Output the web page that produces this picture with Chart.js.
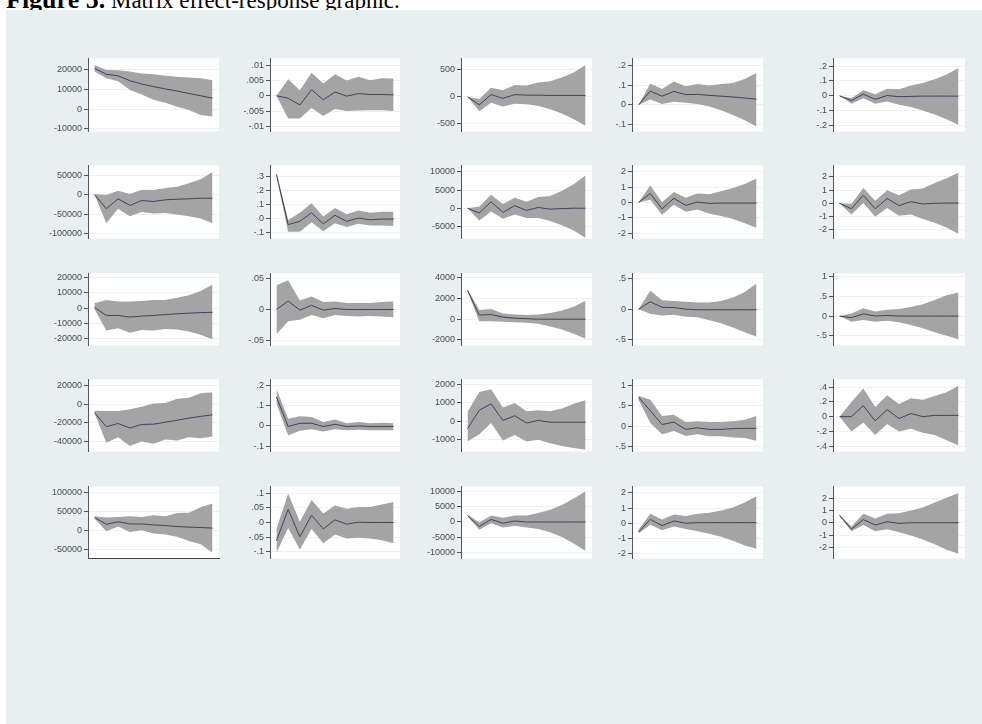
<!DOCTYPE html>
<html>
<head>
<meta charset="utf-8">
<script src="https://cdn.jsdelivr.net/npm/chart.js@4.4.1/dist/chart.umd.min.js"></script>
<style>
body { margin: 0; width: 982px; height: 724px; position: relative; overflow: hidden; background: #fff; }
#title { position: absolute; left: 6px; top: -15px; font-family: "Liberation Serif", "Times New Roman", serif; font-size: 23px; white-space: nowrap; color: #000; }
#title b { font-size: 26px; }
#panel { position: absolute; left: 6px; top: 10px; right: 0; bottom: 0; background: #e8eff1; }
canvas { position: absolute; }
</style>
</head>
<body>
<div id="title"><b>Figure 5.</b> Matrix effect-response graphic.</div>
<div id="panel"></div>
<script>
// Matrix of impulse responses - 5x5 small multiples, grey band = confidence interval
const steps = [0, 1, 2, 3, 4, 5, 6, 7, 8, 9, 10];

// row 1
const irf1 = [
    [20800, 17800, 17000, 14500, 12800, 11500, 10300, 9200, 8000, 6800, 5600],
    [0, -.0008, -.003, .002, -.0013, .0012, -.0001, .0007, .0004, .0004, .0003],
    [0, -150, 40, -30, 40, 30, 30, 25, 25, 25, 25],
    [0, .07, .044, .068, .052, .053, .048, .044, .04, .035, .029],
    [0, -.032, .011, -.024, .002, -.006, -.004, -.002, -.002, -.002, -.002]
];
const hi1 = [
    [22500, 20000, 19800, 19200, 18200, 17800, 17000, 16500, 16200, 15800, 14800],
    [0, .0054, .0018, .0075, .004, .007, .005, .0062, .0051, .0057, .0056],
    [0, -40, 170, 120, 220, 210, 265, 290, 360, 450, 590],
    [0, .108, .08, .118, .094, .105, .098, .105, .11, .13, .16],
    [0, -.017, .037, .011, .047, .045, .069, .086, .112, .144, .187]
];
const lo1 = [
    [19200, 15800, 14200, 9800, 7500, 4800, 3200, 1200, -500, -3000, -3800],
    [0, -.0074, -.0074, -.004, -.0066, -.0043, -.005, -.0048, -.0047, -.0047, -.005],
    [0, -270, -110, -180, -130, -140, -170, -230, -310, -420, -540],
    [0, .027, .005, .016, .011, .005, -.008, -.027, -.05, -.077, -.108],
    [0, -.054, -.017, -.054, -.039, -.06, -.075, -.099, -.125, -.157, -.196]
];
const ticks1 = [[20000, 10000, 0, -10000], [.01, .005, 0, -.005, -.01], [500, 0, -500], [.2, .1, 0, -.1], [.2, .1, 0, -.1, -.2]];
const yMin1 = [-11500, -.0117, -648, -.134, -.241];
const yMax1 = [25900, .0122, 714, .234, .252];

// row 2
const irf2 = [
    [0, -35800, -10800, -27500, -15000, -17500, -13300, -11700, -10800, -9200, -9200],
    [.316, -.041, -.018, .043, -.036, .025, -.018, .005, -.007, -.002, -.002],
    [0, -1300, 1750, -1150, 700, -600, 200, -250, -100, 0, 0],
    [0, .58, -.42, .27, -.19, .02, -.06, -.04, -.04, -.04, -.04],
    [0, -.41, .6, -.41, .36, -.17, .12, -.05, 0, .02, .02]
];
const hi2 = [
    [1700, -800, 10000, 1700, 12500, 11700, 16700, 20000, 29200, 39200, 57500],
    [.327, -.009, .043, .111, .016, .077, .032, .059, .043, .05, .05],
    [0, 450, 3700, 1150, 2900, 1750, 3050, 3350, 4800, 6600, 9000],
    [0, 1.1, .02, .69, .31, .58, .54, .73, .94, 1.21, 1.56],
    [0, -.05, 1.16, .19, .99, .6, 1.04, 1.11, 1.52, 1.88, 2.29]
];
const lo2 = [
    [0, -73300, -35800, -55000, -44200, -48300, -46700, -50800, -55000, -60800, -73300],
    [.3, -.093, -.093, -.025, -.089, -.032, -.059, -.036, -.048, -.048, -.052],
    [0, -3350, -900, -2900, -1750, -2650, -2650, -3500, -4650, -6150, -8150],
    [0, .17, -.81, -.15, -.6, -.46, -.73, -.88, -1.08, -1.35, -1.65],
    [0, -.84, .02, -1.01, -.36, -.94, -.84, -1.18, -1.45, -1.81, -2.29]
];
const ticks2 = [[50000, 0, -50000, -100000], [.3, .2, .1, 0, -.1], [10000, 5000, 0, -5000], [2, 1, 0, -1, -2], [2, 1, 0, -1, -2]];
const yMin2 = [-112300, -.141, -8340, -2.36, -2.65];
const yMax2 = [74600, .38, 11760, 2.42, 2.85];

// row 3
const irf3 = [
    [400, -4900, -4900, -6000, -5300, -4900, -4300, -3800, -3400, -3000, -2800],
    [0, .0135, -.001, .0067, -.001, .0016, 0, 0, 0, 0, 0],
    [2800, 400, 450, 200, 100, 50, 0, 0, 0, 0, 0],
    [0, .12, .03, .026, 0, -.01, -.01, -.01, -.01, -.01, -.01],
    [0, -.04, .057, 0, .016, 0, 0, 0, 0, 0, 0]
];
const hi3 = [
    [3200, 5300, 4300, 4300, 4700, 5300, 5300, 6800, 8500, 11300, 15600],
    [.039, .047, .0145, .021, .012, .013, .0104, .0104, .0104, .012, .013],
    [2900, 900, 1000, 550, 450, 400, 450, 600, 850, 1200, 1800],
    [0, .3, .146, .135, .12, .11, .11, .135, .19, .28, .42],
    [0, .065, .2, .12, .16, .18, .23, .3, .41, .53, .6]
];
const lo3 = [
    [-600, -14900, -13400, -16400, -14500, -14900, -13900, -14300, -15600, -17700, -20900],
    [-.04, -.019, -.0166, -.0088, -.014, -.0088, -.0104, -.0114, -.0104, -.0114, -.0124],
    [2700, -200, -200, -250, -300, -350, -450, -700, -1000, -1400, -1900],
    [0, -.073, -.104, -.09, -.125, -.13, -.18, -.23, -.3, -.375, -.45],
    [0, -.146, -.1, -.146, -.12, -.16, -.23, -.31, -.41, -.5, -.59]
];
const ticks3 = [[20000, 10000, 0, -10000, -20000], [.05, 0, -.05], [4000, 2000, 0, -2000], [.5, 0, -.5], [1, .5, 0, -.5]];
const yMin3 = [-24900, -.0582, -2560, -.594, -.754];
const yMax3 = [23000, .0582, 4440, .583, 1.09];

// row 4
const irf4 = [
    [-8900, -24000, -20600, -25400, -21600, -21300, -19200, -17200, -14800, -13000, -11300],
    [.143, -.003, .013, .013, -.003, .008, -.003, 0, -.003, -.003, -.003],
    [-400, 600, 950, 50, 300, -100, 50, -50, -50, -50, -50],
    [.71, .38, .04, .1, -.08, -.04, -.08, -.08, -.06, -.055, -.055],
    [0, 0, .148, -.057, .096, -.026, .043, 0, .017, .017, .017]
];
const hi4 = [
    [-6900, -7200, -7200, -5500, -2700, 700, 1400, 5800, 6900, 11700, 12700],
    [.183, .035, .048, .044, .019, .032, .013, .019, .013, .016, .013],
    [520, 1600, 1750, 750, 1000, 550, 600, 550, 700, 950, 1150],
    [.75, .65, .25, .28, .1, .12, .1, .1, .12, .16, .25],
    [0, .2, .38, .13, .29, .17, .25, .23, .28, .33, .42]
];
const lo4 = [
    [-9600, -41200, -35300, -44600, -39800, -42200, -37700, -38800, -35300, -36400, -34600],
    [.111, -.048, -.024, -.016, -.027, -.016, -.021, -.019, -.021, -.021, -.021],
    [-1100, -700, -100, -1050, -750, -1100, -1000, -1200, -1350, -1450, -1550],
    [.65, .08, -.2, -.12, -.24, -.2, -.25, -.25, -.28, -.29, -.36],
    [0, -.2, -.08, -.25, -.1, -.2, -.165, -.22, -.25, -.32, -.39]
];
const ticks4 = [[20000, 0, -20000, -40000], [.2, .1, 0, -.1], [2000, 1000, 0, -1000], [1, .5, 0, -.5], [.4, .2, 0, -.2, -.4]];
const yMin4 = [-50600, -.127, -1650, -.626, -.474];
const yMax4 = [26500, .23, 2280, 1.15, .505];

// row 5
const irf5 = [
    [34200, 16700, 23300, 17500, 17500, 15000, 13300, 10800, 9200, 8300, 6700],
    [-.063, .045, -.049, .025, -.022, .009, -.0055, .001, 0, 0, 0],
    [2080, -1460, 830, -420, 310, 0, 0, 0, 0, 0, 0],
    [-.58, .25, -.15, .15, 0, .04, .04, .04, .04, .04, .04],
    [.6, -.52, .26, -.18, .08, -.05, 0, 0, 0, 0, 0]
];
const hi5 = [
    [37500, 34200, 35800, 37500, 35800, 40000, 37500, 45800, 46700, 60800, 70800],
    [-.022, .1, .003, .077, .031, .058, .047, .053, .053, .062, .07],
    [2400, -200, 2080, 1350, 2080, 2080, 2900, 3960, 5500, 7600, 10000],
    [-.42, .63, .25, .58, .48, .63, .69, .84, 1.04, 1.36, 1.77],
    [.65, -.31, .73, .34, .73, .78, .99, 1.25, 1.64, 2.04, 2.43]
];
const lo5 = [
    [31700, -1700, 10800, -3300, 800, -7500, -10000, -15800, -26700, -35000, -57500],
    [-.104, -.019, -.093, -.022, -.071, -.041, -.055, -.052, -.055, -.061, -.071],
    [1875, -2500, -420, -1770, -1250, -1770, -2300, -3300, -4900, -7000, -9400],
    [-.67, -.1, -.46, -.21, -.38, -.52, -.69, -.88, -1.15, -1.46, -1.67],
    [.52, -.7, -.18, -.7, -.52, -.78, -1.04, -1.36, -1.75, -2.19, -2.53]
];
const ticks5 = [[100000, 50000, 0, -50000], [.1, .05, 0, -.05, -.1], [10000, 5000, 0, -5000, -10000], [2, 1, 0, -1, -2], [2, 1, 0, -1, -2]];
const yMin5 = [-72500, -.124, -11900, -2.32, -2.92];
const yMax5 = [115000, .124, 11560, 2.42, 2.96];

const irfRows = [irf1, irf2, irf3, irf4, irf5];
const hiRows = [hi1, hi2, hi3, hi4, hi5];
const loRows = [lo1, lo2, lo3, lo4, lo5];
const tickRows = [ticks1, ticks2, ticks3, ticks4, ticks5];
const minRows = [yMin1, yMin2, yMin3, yMin4, yMin5];
const maxRows = [yMax1, yMax2, yMax3, yMax4, yMax5];

// plot-region boxes in page pixels
const colLeft = [88, 270, 461, 632, 833];
const colRight = [219, 400, 592, 763, 965];
const rowTop = [57, 164, 272, 378, 485];
const rowBottom = [133, 240, 347, 453, 560];
const AXW = 60, PAD = 6;

const BAND = '#a4a4a4', LINE = '#3c4262', AXIS = '#555';
const FONT = { family: '"Liberation Sans", Arial, sans-serif', size: 9 };

// Stata style labels: .5 instead of 0.5
function fmt(v) { return String(v).replace(/^(-?)0\./, '$1.'); }

const plotBg = {
    id: 'plotBg',
    beforeDraw(c) {
        const a = c.chartArea, ctx = c.ctx;
        ctx.save();
        ctx.fillStyle = '#fff';
        ctx.fillRect(a.left, a.top, a.right - a.left, a.bottom - a.top);
        ctx.restore();
    }
};

function pts(arr) { return steps.map((s, i) => ({ x: s, y: arr[i] })); }

function panel(r, c) {
    const cv = document.createElement('canvas');
    const w = colRight[c] - colLeft[c] + AXW + 2;
    const h = rowBottom[r] - rowTop[r] + 2 * PAD;
    cv.width = w; cv.height = h;
    cv.style.left = (colLeft[c] - AXW) + 'px';
    cv.style.top = (rowTop[r] - PAD) + 'px';
    document.body.appendChild(cv);
    const tk = tickRows[r][c];
    const showX = (r === 4 && c === 0); // only this panel shows its bottom axis line
    new Chart(cv.getContext('2d'), {
        type: 'line',
        data: {
            datasets: [
                { data: pts(irfRows[r][c]), borderColor: LINE, borderWidth: 1, pointRadius: 0, fill: false, tension: 0 },
                { data: pts(hiRows[r][c]), borderColor: 'rgba(0,0,0,0)', borderWidth: 0, pointRadius: 0, fill: '+1', backgroundColor: BAND, tension: 0 },
                { data: pts(loRows[r][c]), borderColor: 'rgba(0,0,0,0)', borderWidth: 0, pointRadius: 0, fill: false, tension: 0 }
            ]
        },
        options: {
            responsive: false, animation: false, events: [],
            layout: { padding: { top: PAD, bottom: PAD, left: 0, right: 2 } },
            plugins: { legend: { display: false }, tooltip: { enabled: false } },
            scales: {
                x: {
                    type: 'linear', min: -0.55, max: 10.55, display: showX,
                    ticks: { display: false }, grid: { display: false, drawTicks: false },
                    border: { display: true, color: '#444', width: 1 },
                    afterFit: s => { s.height = 0; }
                },
                y: {
                    type: 'linear', min: minRows[r][c], max: maxRows[r][c],
                    afterFit: s => { s.width = AXW; },
                    afterBuildTicks: s => { s.ticks = tk.map(v => ({ value: v })); },
                    ticks: { callback: v => fmt(v), font: FONT, color: '#4a4a4a', padding: 2, autoSkip: false },
                    grid: { color: '#eef1f2', tickColor: AXIS, tickLength: 4, drawTicks: true },
                    border: { display: true, color: AXIS, width: 1 }
                }
            }
        },
        plugins: [plotBg]
    });
}

function init() {
    for (let r = 0; r < 5; r++) for (let c = 0; c < 5; c++) panel(r, c);
}
if (document.readyState === 'loading') document.addEventListener('DOMContentLoaded', init); else init();
</script>
</body>
</html>
